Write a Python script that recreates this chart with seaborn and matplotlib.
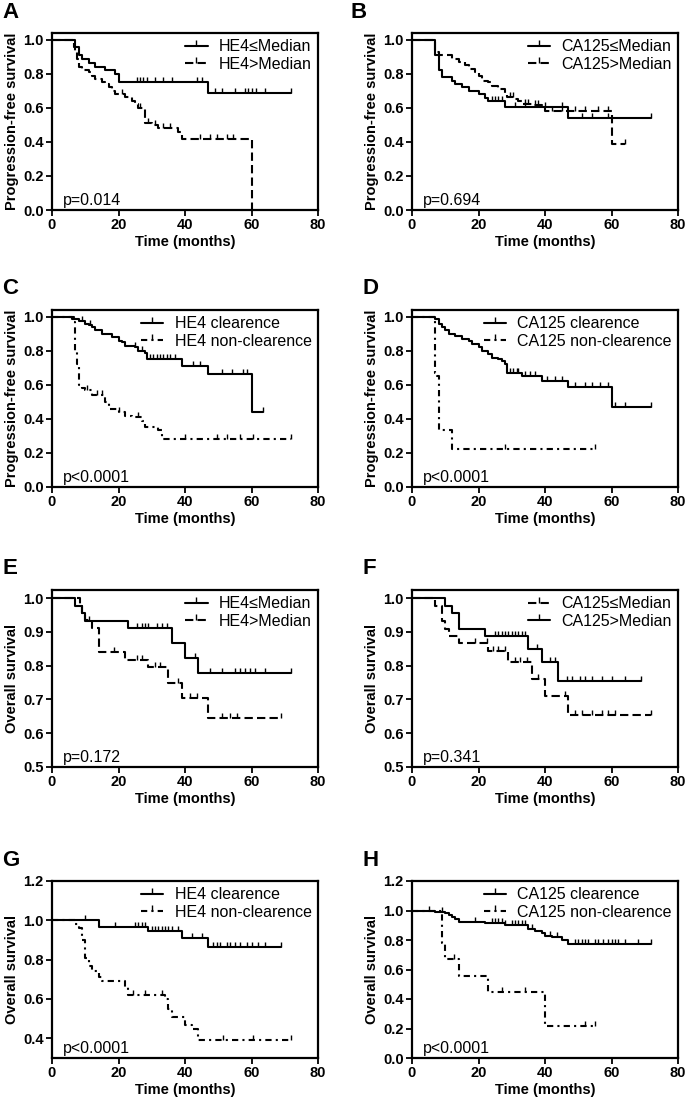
import numpy as np
import matplotlib
matplotlib.use("Agg")
import matplotlib.pyplot as plt
from matplotlib.lines import Line2D
import seaborn as sns

# ---- data (times in months, survival after each step) ----
# A: PFS by HE4
A_LOW_T = [7, 8, 9, 11, 13, 16, 19, 20, 47]
A_LOW_S = [0.955, 0.91, 0.89, 0.865, 0.84, 0.82, 0.80, 0.75, 0.69]
A_LOW_C = [25.5, 26.5, 27.5, 28.5, 31, 33.5, 36, 43.5, 45, 49, 51, 55, 58, 59, 60, 61.5, 64, 72]
A_HIGH_T = [6.5, 7, 7.5, 8, 9, 11, 12, 13, 15, 16, 17, 18, 19, 22, 24, 25, 26, 28, 30, 32, 38, 39, 60]
A_HIGH_S = [0.96, 0.93, 0.89, 0.84, 0.82, 0.81, 0.79, 0.77, 0.755, 0.74, 0.72, 0.70, 0.68,
            0.665, 0.64, 0.62, 0.60, 0.51, 0.50, 0.48, 0.46, 0.42, 0.0]
A_HIGH_C = [21, 26.5, 29, 31, 33.5, 35.5, 44.5, 47.5, 49.5, 52.5, 54.5]

# B: PFS by CA125
B_LOW_T = [7, 8, 9, 12, 13, 15, 17, 20, 22, 23, 28, 47]
B_LOW_S = [0.91, 0.82, 0.78, 0.76, 0.74, 0.72, 0.70, 0.68, 0.66, 0.64, 0.605, 0.54]
B_LOW_C = [24, 25, 26, 27, 31, 34, 40, 45, 51, 54, 59, 72]
B_HIGH_T = [7, 8, 12, 14, 16, 17, 19, 20, 21, 23, 24, 26, 28, 28.5, 31, 32, 33, 36, 39, 40, 60]
B_HIGH_S = [0.93, 0.91, 0.885, 0.87, 0.85, 0.83, 0.81, 0.79, 0.76, 0.75, 0.73, 0.71, 0.69,
            0.665, 0.655, 0.64, 0.625, 0.615, 0.60, 0.58, 0.385]
B_HIGH_C = [29.5, 30.5, 34, 35, 37, 38, 42, 45, 49, 52, 56, 59, 64]

# C: PFS by HE4 clearance
C_CLR_T = [6, 8, 10, 11, 12, 13, 15, 18, 20, 21, 22, 25, 26, 28, 28.5, 39, 47, 60]
C_CLR_S = [0.99, 0.975, 0.96, 0.95, 0.94, 0.92, 0.90, 0.88, 0.86, 0.85, 0.83, 0.82, 0.80,
           0.79, 0.75, 0.71, 0.665, 0.44]
C_CLR_C = [9, 11.5, 25, 27, 29.5, 30.5, 31.5, 32.5, 33.5, 34.5, 35.5, 37, 42.5, 44.5,
           51, 54, 57.5, 58.5, 63.5]
C_NON_T = [6.5, 7, 7.5, 8, 9, 10, 12, 16, 17, 20, 22, 24, 27, 28, 32, 33]
C_NON_S = [0.97, 0.80, 0.72, 0.60, 0.58, 0.57, 0.54, 0.50, 0.46, 0.44, 0.42, 0.41, 0.385,
           0.35, 0.335, 0.28]
C_NON_C = [10.5, 13.5, 15, 20, 26, 40, 49.5, 52.5, 56.5, 60.5, 72]

# D: PFS by CA125 clearance
D_CLR_T = [7, 8, 9, 10, 11, 13, 15, 17, 18, 20, 21, 23, 24, 26, 27, 28, 28.5, 33, 39, 47, 60]
D_CLR_S = [0.985, 0.96, 0.94, 0.92, 0.90, 0.89, 0.87, 0.86, 0.84, 0.82, 0.80, 0.78, 0.76,
           0.75, 0.74, 0.72, 0.67, 0.655, 0.625, 0.59, 0.47]
D_CLR_C = [29.5, 30.5, 31.5, 32, 34, 35.5, 37, 40.5, 43, 45, 49, 52, 54, 56.5, 59, 61, 64, 72]
D_NON_T = [7, 7.5, 8, 12]
D_NON_S = [0.67, 0.65, 0.335, 0.225]
D_NON_C = [28, 55]

# E: OS by HE4
E_LOW_T = [7, 9, 10, 23, 36, 40, 44]
E_LOW_S = [0.978, 0.955, 0.933, 0.911, 0.867, 0.822, 0.778]
E_LOW_C = [11, 25.5, 27, 28, 29, 31.5, 33, 34.5, 43, 47.5, 51, 55, 56.5, 58, 59.5, 61, 64, 72]
E_HIGH_T = [8.5, 9, 10, 12, 14, 22, 29, 35, 39, 47]
E_HIGH_S = [0.978, 0.956, 0.934, 0.912, 0.84, 0.818, 0.795, 0.75, 0.705, 0.645]
E_HIGH_C = [18.5, 25.5, 27, 31, 32.5, 38, 41.5, 43.5, 51, 53.5, 55.5, 69]

# F: OS by CA125
F_LOW_T = [7, 9, 10, 11, 14, 23, 29, 36, 40, 47]
F_LOW_S = [0.977, 0.932, 0.91, 0.888, 0.866, 0.844, 0.81, 0.76, 0.71, 0.655]
F_LOW_C = [19, 22.5, 24.5, 26, 28, 31, 32.5, 34.5, 38, 46, 49, 51, 54, 57, 59, 61, 72]
F_HIGH_T = [10, 12, 14, 22, 35, 39, 44]
F_HIGH_S = [0.977, 0.955, 0.91, 0.888, 0.85, 0.81, 0.755]
F_HIGH_C = [25, 26, 27, 28, 29, 30, 31, 32, 33, 34, 37.5, 41.5, 43, 46.5, 48, 50.5, 52, 54,
            57, 60, 64, 69]

# G: OS by HE4 clearance
G_CLR_T = [14, 29, 39, 47]
G_CLR_S = [0.966, 0.944, 0.908, 0.866]
G_CLR_C = [10, 19, 25, 26, 27, 28, 30, 31, 32, 33, 34, 35, 36, 38, 42, 45, 48.5, 49.5, 50.5,
           52.5, 53.5, 55, 56.5, 58.5, 60, 62, 64, 69]
G_NON_T = [7, 8, 9, 10, 11, 12, 14, 15, 22, 23, 34, 35, 36, 40, 42, 44]
G_NON_S = [0.98, 0.96, 0.90, 0.81, 0.77, 0.74, 0.71, 0.69, 0.66, 0.62, 0.60, 0.55, 0.51,
           0.47, 0.45, 0.39]
G_NON_C = [24.5, 28, 33, 51.5, 60.5, 72]

# H: OS by CA125 clearance
H_CLR_T = [7, 10, 11, 12, 13, 14, 22, 28, 35, 37, 39, 40, 42, 45, 47]
H_CLR_S = [0.99, 0.98, 0.97, 0.955, 0.945, 0.925, 0.915, 0.90, 0.875, 0.86, 0.845, 0.83,
           0.82, 0.80, 0.77]
H_CLR_C = [5, 9, 19, 24, 25, 26, 27, 28, 30, 31, 32, 33, 34, 36, 41.5, 43.5, 49, 50, 51, 52,
           53, 55, 56, 57.5, 59, 60, 61, 62, 64, 68, 72]
H_NON_T = [9, 10, 14, 23, 40]
H_NON_S = [0.78, 0.67, 0.555, 0.445, 0.22]
H_NON_C = [12.5, 27, 34, 52, 55]

LABELS_A = ["HE4\u2264Median", "HE4>Median"]
LABELS_B = ["CA125\u2264Median", "CA125>Median"]
LABELS_C = ["HE4 clearence", "HE4 non-clearence"]
LABELS_D = ["CA125 clearence", "CA125 non-clearence"]
P_VALUES = ["p=0.014", "p=0.694", "p<0.0001", "p<0.0001", "p=0.172", "p=0.341", "p<0.0001", "p<0.0001"]

SOLID = "-"
DASHED = (0, (4, 2))
DASHDOT = (0, (3, 2, 1, 2))

sns.set_theme(style="ticks")
plt.rcParams["font.family"] = ["Liberation Sans", "DejaVu Sans"]
plt.rcParams["text.color"] = "black"
plt.rcParams["axes.labelcolor"] = "black"

W, H = 685, 1102
fig = plt.figure(figsize=(W / 100, H / 100), dpi=100)


def km_steps(t, s, c):
    end = max([t[-1]] + list(c))
    x = [0] + list(t) + [end]
    y = [1.0] + list(s) + [s[-1]]
    return x, y


def censor_y(t, s, c):
    idx = np.searchsorted(np.array(t), np.array(c), side="right") - 1
    surv = np.concatenate([[1.0], s])
    return surv[idx + 1]


def draw_panel(left, top, letter, curves, labels, ylab, ylim, yticks, pval, letter_x):
    ax = fig.add_axes([left / W, 1 - (top + 177) / H, 266 / W, 177 / H])
    handles = []
    for (t, s, c, ls), lab in zip(curves, labels):
        x, y = km_steps(t, s, c)
        sns.lineplot(x=x, y=y, ax=ax, drawstyle="steps-post", color="black", lw=1.5,
                     linestyle=ls, estimator=None, sort=False)
        # censor marks: small ticks pointing up from the curve
        ax.plot(c, censor_y(t, s, c), linestyle="none", marker=2, markersize=3.5,
                markeredgewidth=1.0, color="black")
        handles.append(Line2D([], [], color="black", lw=1.5, linestyle=ls, marker=2,
                              markersize=4, markeredgewidth=1.0))
    ax.set_xlim(0, 80)
    ax.set_ylim(*ylim)
    ax.set_xticks([0, 20, 40, 60, 80])
    ax.set_yticks(yticks)
    ax.set_yticklabels([f"{v:.1f}" for v in yticks])
    for sp in ax.spines.values():
        sp.set_visible(True)
        sp.set_linewidth(1.6)
        sp.set_color("black")
    ax.tick_params(direction="out", length=4, width=1.3, labelsize=10.5, pad=2, colors="black")
    for lb in ax.get_xticklabels() + ax.get_yticklabels():
        lb.set_fontweight("bold")
    ax.set_xlabel("Time (months)", fontsize=10.5, fontweight="bold", labelpad=2, color="black")
    ax.set_ylabel(ylab, fontsize=10.5, fontweight="bold", labelpad=3, color="black")
    leg = ax.legend(handles, labels, loc="upper right", frameon=False, fontsize=11.5,
                    handlelength=1.4, handletextpad=0.7, labelspacing=0.15,
                    borderaxespad=0.1, borderpad=0.3)
    for txt in leg.get_texts():
        txt.set_color("black")
    ax.text(0.04, 0.01, pval, transform=ax.transAxes, fontsize=11.5, va="bottom", ha="left",
            color="black")
    fig.text(letter_x / W, 1 - (top - 21) / H, letter, fontsize=16, fontweight="bold",
             ha="left", va="center", color="black")
    return ax


PFS = "Progression-free survival"
OS = "Overall survival"
t01 = [0.0, 0.2, 0.4, 0.6, 0.8, 1.0]

draw_panel(52, 33, "A", [(A_LOW_T, A_LOW_S, A_LOW_C, SOLID), (A_HIGH_T, A_HIGH_S, A_HIGH_C, DASHED)],
           LABELS_A, PFS, (0, 1.04), t01, P_VALUES[0], 2)
draw_panel(412, 33, "B", [(B_LOW_T, B_LOW_S, B_LOW_C, SOLID), (B_HIGH_T, B_HIGH_S, B_HIGH_C, DASHED)],
           LABELS_B, PFS, (0, 1.04), t01, P_VALUES[1], 350)
draw_panel(52, 310, "C", [(C_CLR_T, C_CLR_S, C_CLR_C, SOLID), (C_NON_T, C_NON_S, C_NON_C, DASHDOT)],
           LABELS_C, PFS, (0, 1.04), t01, P_VALUES[2], 2)
draw_panel(412, 310, "D", [(D_CLR_T, D_CLR_S, D_CLR_C, SOLID), (D_NON_T, D_NON_S, D_NON_C, DASHDOT)],
           LABELS_D, PFS, (0, 1.04), t01, P_VALUES[3], 362)
draw_panel(52, 590, "E", [(E_LOW_T, E_LOW_S, E_LOW_C, SOLID), (E_HIGH_T, E_HIGH_S, E_HIGH_C, DASHED)],
           LABELS_A, OS, (0.5, 1.024), [0.5, 0.6, 0.7, 0.8, 0.9, 1.0], P_VALUES[4], 2)
draw_panel(412, 590, "F", [(F_LOW_T, F_LOW_S, F_LOW_C, DASHED), (F_HIGH_T, F_HIGH_S, F_HIGH_C, SOLID)],
           LABELS_B, OS, (0.5, 1.024), [0.5, 0.6, 0.7, 0.8, 0.9, 1.0], P_VALUES[5], 362)
draw_panel(52, 881, "G", [(G_CLR_T, G_CLR_S, G_CLR_C, SOLID), (G_NON_T, G_NON_S, G_NON_C, DASHDOT)],
           LABELS_C, OS, (0.3, 1.2), [0.4, 0.6, 0.8, 1.0, 1.2], P_VALUES[6], 2)
draw_panel(412, 881, "H", [(H_CLR_T, H_CLR_S, H_CLR_C, SOLID), (H_NON_T, H_NON_S, H_NON_C, DASHDOT)],
           LABELS_D, OS, (0, 1.2), [0.0, 0.2, 0.4, 0.6, 0.8, 1.0, 1.2], P_VALUES[7], 362)

fig.savefig("out.png", dpi=100)
